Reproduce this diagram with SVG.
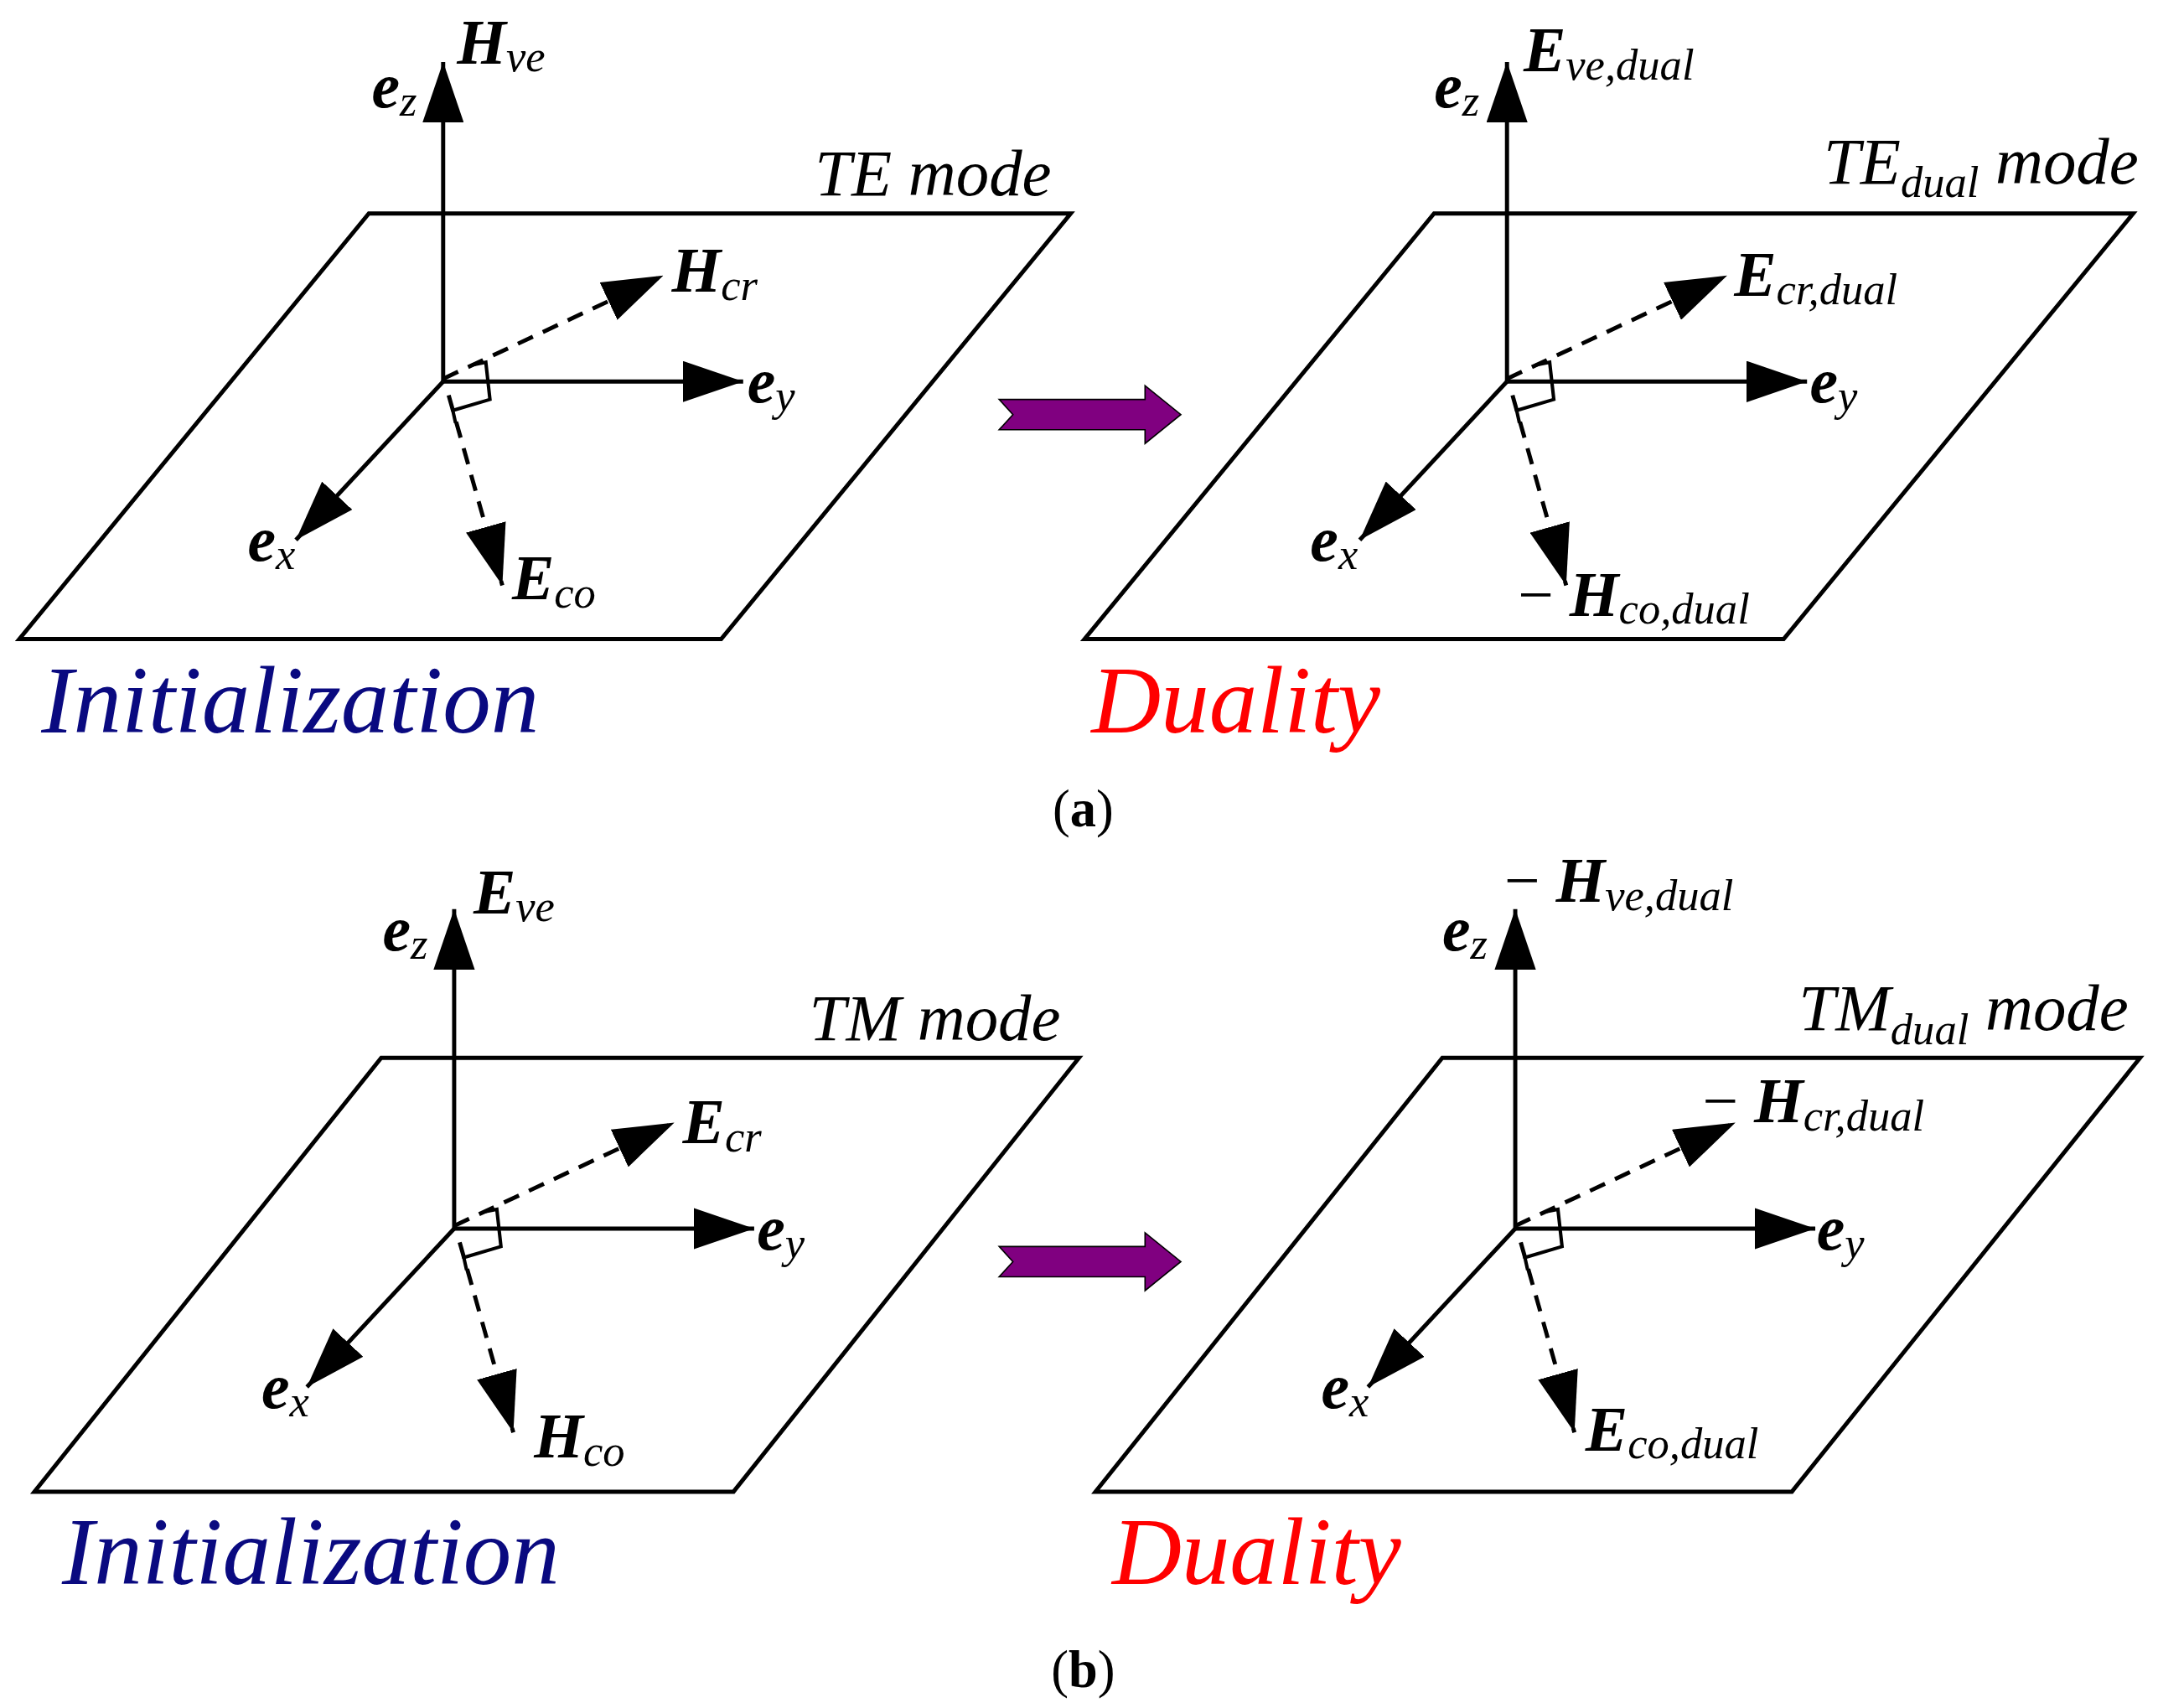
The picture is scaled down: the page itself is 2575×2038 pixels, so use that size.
<svg xmlns="http://www.w3.org/2000/svg" width="2575" height="2038" viewBox="0 0 2575 2038">
<style>
.pl{fill:none;stroke:#000;stroke-width:3}
.ax{stroke:#000;stroke-width:3;fill:none;marker-end:url(#ah)}
.da{stroke:#000;stroke-width:3;fill:none;stroke-dasharray:12,8;marker-end:url(#ah)}
.rm{stroke:#000;stroke-width:2.5;fill:none}
.v{font-weight:bold;font-style:italic;font-size:46px}
.s{font-weight:normal;font-style:italic;font-size:32px}
.m{font-style:italic;font-size:48px}
.big{font-style:italic;font-size:70px}
.cap{font-size:38px}
.pa{fill:#800080;stroke:#000;stroke-width:1}
</style>
<defs>
<marker id="ah" viewBox="0 0 44 30" refX="44" refY="15" markerWidth="44" markerHeight="30" markerUnits="userSpaceOnUse" orient="auto">
<path d="M0,0 L44,15 L0,30 z" fill="#000"/>
</marker>
<g id="axes">
<line class="ax" x1="0" y1="2" x2="0" y2="-230"/>
<line class="ax" x1="0" y1="2" x2="218" y2="2"/>
<line class="ax" x1="0" y1="2" x2="-107" y2="117"/>
<line class="da" x1="0" y1="0" x2="160" y2="-75"/>
<line class="da" x1="4" y1="12" x2="43" y2="150"/>
<polyline class="rm" points="21,-10 31,-12 34,15 7,23 9,32"/>
</g>
</defs>
<rect width="2575" height="2038" fill="#fff"/>
<g transform="scale(1.6422,1.6435)" font-family="'Liberation Serif','DejaVu Serif',serif">
<g id="connectors">
<path class="pa" d="M726,290 L832,290 L832,280 L858,301 L832,322 L832,312 L726,312 L736,301 z"/>
<path class="pa" d="M726,905 L832,905 L832,895 L858,916 L832,937 L832,927 L726,927 L736,916 z"/>
</g>
<g id="panel-a-init">
<polygon class="pl" points="268,155 778,155 524,464 14,464"/>
<use href="#axes" transform="translate(322,275)"/>
<text x="332" y="46" class="v">H<tspan class="s" dy="6">ve</tspan></text>
<text x="270" y="78" class="v">e<tspan class="s" dy="6">z</tspan></text>
<text x="592" y="142" class="m">TE mode</text>
<text x="488" y="212" class="v">H<tspan class="s" dy="6">cr</tspan></text>
<text x="543" y="292" class="v">e<tspan class="s" dy="6">y</tspan></text>
<text x="180" y="407" class="v">e<tspan class="s" dy="6">x</tspan></text>
<text x="372" y="435" class="v">E<tspan class="s" dy="6">co</tspan></text>
<text x="30" y="532" class="big" fill="#0a0a80">Initialization</text>
</g>
<g id="panel-a-dual">
<polygon class="pl" points="1042,155 1550,155 1296,464 788,464"/>
<use href="#axes" transform="translate(1095,275)"/>
<text x="1107" y="52" class="v">E<tspan class="s" dy="6">ve,dual</tspan></text>
<text x="1042" y="78" class="v">e<tspan class="s" dy="6">z</tspan></text>
<text x="1325" y="133" class="m">TE<tspan class="s" dy="10">dual</tspan><tspan dy="-10"> mode</tspan></text>
<text x="1260" y="215" class="v">E<tspan class="s" dy="6">cr,dual</tspan></text>
<text x="1315" y="292" class="v">e<tspan class="s" dy="6">y</tspan></text>
<text x="952" y="407" class="v">e<tspan class="s" dy="6">x</tspan></text>
<text x="1103" y="447" class="v"><tspan font-weight="normal" font-style="normal">− </tspan>H<tspan class="s" dy="6">co,dual</tspan></text>
<text x="793" y="532" class="big" fill="#ff0000">Duality</text>
</g>
<text x="787" y="600" class="cap" text-anchor="middle">(<tspan font-weight="bold">a</tspan>)</text>
<g id="panel-b-init">
<polygon class="pl" points="277,768 784,768 533,1083 25,1083"/>
<use href="#axes" transform="translate(330,890)"/>
<text x="344" y="663" class="v">E<tspan class="s" dy="6">ve</tspan></text>
<text x="278" y="690" class="v">e<tspan class="s" dy="6">z</tspan></text>
<text x="588" y="755" class="m">TM mode</text>
<text x="496" y="830" class="v">E<tspan class="s" dy="6">cr</tspan></text>
<text x="550" y="907" class="v">e<tspan class="s" dy="6">y</tspan></text>
<text x="190" y="1022" class="v">e<tspan class="s" dy="6">x</tspan></text>
<text x="388" y="1058" class="v">H<tspan class="s" dy="6">co</tspan></text>
<text x="45" y="1150" class="big" fill="#0a0a80">Initialization</text>
</g>
<g id="panel-b-dual">
<polygon class="pl" points="1048,768 1555,768 1302,1083 796,1083"/>
<use href="#axes" transform="translate(1101,890)"/>
<text x="1093" y="655" class="v"><tspan font-weight="normal" font-style="normal">− </tspan>H<tspan class="s" dy="6">ve,dual</tspan></text>
<text x="1048" y="690" class="v">e<tspan class="s" dy="6">z</tspan></text>
<text x="1307" y="748" class="m">TM<tspan class="s" dy="10">dual</tspan><tspan dy="-10"> mode</tspan></text>
<text x="1237" y="815" class="v"><tspan font-weight="normal" font-style="normal">− </tspan>H<tspan class="s" dy="6">cr,dual</tspan></text>
<text x="1320" y="907" class="v">e<tspan class="s" dy="6">y</tspan></text>
<text x="960" y="1022" class="v">e<tspan class="s" dy="6">x</tspan></text>
<text x="1152" y="1053" class="v">E<tspan class="s" dy="6">co,dual</tspan></text>
<text x="808" y="1150" class="big" fill="#ff0000">Duality</text>
</g>
<text x="787" y="1225" class="cap" text-anchor="middle">(<tspan font-weight="bold">b</tspan>)</text>
</g>
</svg>
